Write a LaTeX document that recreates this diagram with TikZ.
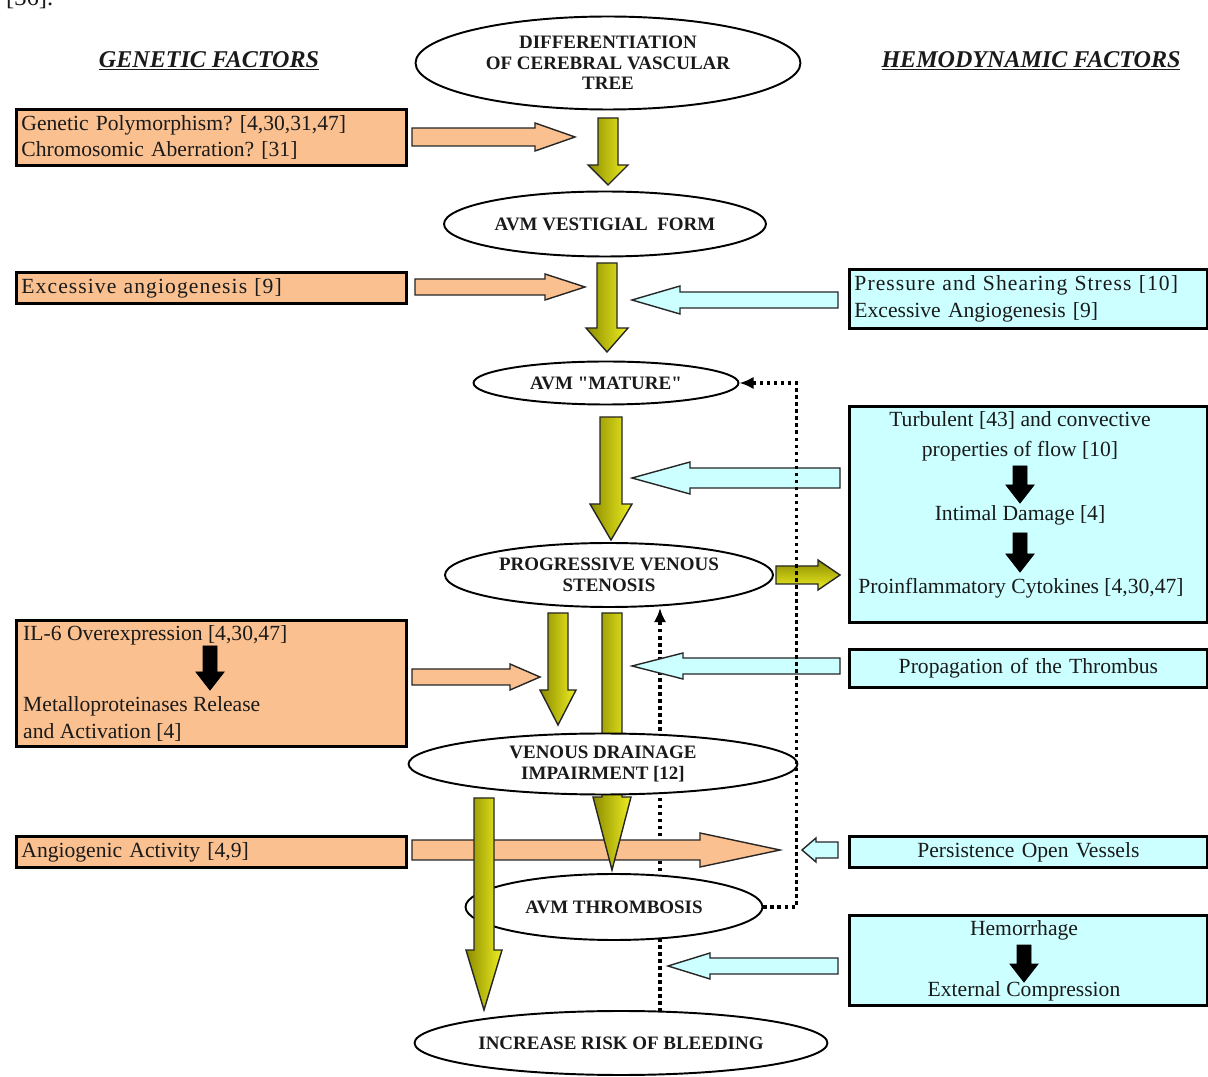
\documentclass[tikz,border=0pt]{standalone}
\usepackage{fontspec}
\setmainfont{Liberation Serif}
\usepackage{tikz}
\usetikzlibrary{shapes.geometric,arrows.meta,positioning,calc}
\definecolor{genpeach}{HTML}{FAC090}
\definecolor{hemcyan}{HTML}{CCFFFF}
\definecolor{olivedark}{HTML}{8C8C00}
\definecolor{oliveyel}{HTML}{EEEE22}
\definecolor{inktxt}{HTML}{1A1A1A}
\frenchspacing

%% block arrows: style, x, y start, y tip, shaft half width, head half width, head length
\newcommand{\vblk}[7]{\draw[#1] ({#2-#5},#3) -- ({#2+#5},#3) -- ({#2+#5},{#4-#7}) -- ({#2+#6},{#4-#7}) -- (#2,#4) -- ({#2-#6},{#4-#7}) -- ({#2-#5},{#4-#7}) -- cycle;}
%% same, lying down: style, y, x start, x tip, shaft half, head half, signed head length
\newcommand{\hblk}[7]{\draw[#1] (#3,{#2-#5}) -- ({#4-(#7)},{#2-#5}) -- ({#4-(#7)},{#2-#6}) -- (#4,#2) -- ({#4-(#7)},{#2+#6}) -- ({#4-(#7)},{#2+#5}) -- (#3,{#2+#5}) -- cycle;}
\newcommand{\widetxt}[1]{{\addfontfeature{LetterSpace=5}#1}}

\begin{document}
\begin{tikzpicture}[x=0.02cm,y=-0.02cm,
	stage/.style={ellipse, draw, line width=1.1pt, fill=white, inner sep=0pt, align=center, text=inktxt, font=\fontsize{10.8}{11.6}\selectfont\bfseries},
	genbox/.style={draw, line width=1.6pt, fill=genpeach, anchor=north west, minimum width=7.8cm, text width=7.6cm, inner xsep=0.1cm, align=left, text=inktxt, font=\fontsize{12.3}{15.2}\selectfont},
	hembox/.style={draw, line width=1.6pt, fill=hemcyan, anchor=north west, minimum width=7.16cm, text width=6.96cm, inner xsep=0.1cm, text=inktxt, font=\fontsize{12.3}{15.2}\selectfont},
	boxtext/.style={text=inktxt, font=\fontsize{12.3}{15.2}\selectfont},
	heading/.style={text=inktxt, font=\fontsize{13.7}{16}\selectfont\bfseries\itshape},
	dotline/.style={line width=2pt, dash pattern=on 2pt off 2pt},
	peachar/.style={fill=genpeach, draw=black!85, line width=0.8pt},
	cyanar/.style={fill=hemcyan, draw=black!85, line width=0.8pt},
	olivev/.style={left color=olivedark, right color=oliveyel, draw=black!85, line width=0.8pt},
	oliveh/.style={top color=olivedark, bottom color=oliveyel, draw=black!85, line width=0.8pt},
	blackar/.style={fill=black, draw=black, line width=0.5pt}]
	\useasboundingbox (0,0) rectangle (1208,1077);
	\fill[white] (0,0) rectangle (1208,1077);
	%% caption remnant at the very top
	\node[anchor=base west, boxtext, font=\fontsize{14}{16}\selectfont] (capt) at (0,6) {[36].};
	%% headings
	\node[heading] (genhead) at (209,61) {\underline{GENETIC FACTORS}};
	\node[heading] (hemhead) at (1031,61) {\underline{HEMODYNAMIC FACTORS}};

	%% genetic side
	\node[genbox, minimum height=1.1cm] (gen1) at (15,108) {Genetic Polymorphism? [4,30,31,47]\\Chromosomic Aberration? [31]};
	\node[genbox, minimum height=0.58cm] (gen2) at (15,271) {\widetxt{Excessive angiogenesis [9]}};
	\node[genbox, minimum height=2.52cm] (gen3) at (15,619) {};
	\node[boxtext, anchor=west] (il6) at (17,635) {IL-6 Overexpression [4,30,47]};
	\node[boxtext, anchor=west, align=left] (mmp) at (17,719) {Metalloproteinases Release\\and Activation [4]};
	\node[genbox, minimum height=0.58cm] (gen4) at (15,835) {Angiogenic Activity [4,9]};

	%% hemodynamic side
	\node[hembox, minimum height=1.18cm, align=left] (hem1) at (848,268) {\widetxt{Pressure and Shearing Stress [10]}\\Excessive Angiogenesis [9]};
	\node[hembox, minimum height=4.32cm] (hem2) at (848,405) {};
	\node[boxtext, align=center, font=\fontsize{12.3}{17}\selectfont] (turb) at (1020,436) {Turbulent [43] and convective\\properties of flow [10]};
	\node[boxtext] (intim) at (1020,515) {Intimal Damage [4]};
	\node[boxtext] (cyto) at (1021,588) {Proinflammatory Cytokines [4,30,47]};
	\node[hembox, minimum height=0.76cm, align=center] (hem3) at (848,648) {Propagation of the Thrombus};
	\node[hembox, minimum height=0.58cm, align=center] (hem4) at (848,835) {Persistence Open Vessels};
	\node[hembox, minimum height=1.8cm] (hem5) at (848,914) {};
	\node[boxtext] (hemor) at (1024,930) {Hemorrhage};
	\node[boxtext] (extc) at (1024,991) {External Compression};

	%% small black arrows inside the boxes
	\vblk{blackar}{210}{646}{690}{7}{14}{18}
	\vblk{blackar}{1020}{466}{503}{7}{14}{18}
	\vblk{blackar}{1020}{533}{572}{7}{14}{18}
	\vblk{blackar}{1024}{945}{982}{7}{14}{18}

	%% dotted feedback lines
	\coordinate (dotlow) at (660,1012);
	\coordinate (dottop) at (660,608);
	\draw[dotline, -{Latex[length=8pt,width=7pt]}] (dotlow) -- (dottop);

	%% side arrows
	\hblk{peachar}{137}{412}{575}{9}{14}{40}
	\hblk{peachar}{287}{415}{585}{8}{13}{40}
	\hblk{peachar}{677}{412}{540}{8}{13}{30}
	\hblk{peachar}{850}{412}{780}{10}{17}{80}
	\hblk{cyanar}{300}{838}{632}{8}{14}{-48}
	\hblk{cyanar}{478}{840}{632}{10}{16}{-58}
	\hblk{cyanar}{666}{840}{632}{8}{13}{-51}
	\hblk{cyanar}{850}{838}{802}{8}{12}{-14}
	\hblk{cyanar}{966}{838}{668}{8}{13}{-42}
	\hblk{oliveh}{575}{776}{840}{9}{15}{22}

	%% main olive arrows
	\vblk{olivev}{608}{118}{185}{10}{20}{20}
	\vblk{olivev}{607}{263}{352}{10}{21}{24}
	\vblk{olivev}{611}{417}{540}{11}{21}{36}
	\vblk{olivev}{558}{613}{725}{10}{18}{35}
	\vblk{olivev}{612}{613}{870}{10}{19}{73}

	%% stages
	\node[stage, minimum width=7.7cm, minimum height=1.86cm] (diff) at (608,63) {DIFFERENTIATION\\OF CEREBRAL VASCULAR\\TREE};
	\node[stage, minimum width=6.44cm, minimum height=1.3cm] (vestig) at (605,224) {AVM VESTIGIAL\ \ FORM};
	\node[stage, minimum width=5.3cm, minimum height=0.86cm] (mature) at (606,383) {AVM \textquotedbl MATURE\textquotedbl};
	\node[stage, minimum width=6.56cm, minimum height=1.28cm] (stenos) at (609,575) {PROGRESSIVE VENOUS\\STENOSIS};
	\node[stage, minimum width=7.78cm, minimum height=1.22cm] (drain) at (603,764) {VENOUS DRAINAGE\\IMPAIRMENT [12]};
	\node[stage, minimum width=5.94cm, minimum height=1.32cm] (thromb) at (614,907) {AVM THROMBOSIS};
	\node[stage, minimum width=8.26cm, minimum height=1.28cm] (bleed) at (621,1043) {INCREASE RISK OF BLEEDING};

	\draw[dotline, -{Latex[length=8pt,width=7pt]}] (thromb.east) -- ++(33,0) |- (mature.east);
	%% last olive arrow lies over the thrombosis ellipse
	\vblk{olivev}{484}{798}{1010}{10}{18}{60}
\end{tikzpicture}
\end{document}
